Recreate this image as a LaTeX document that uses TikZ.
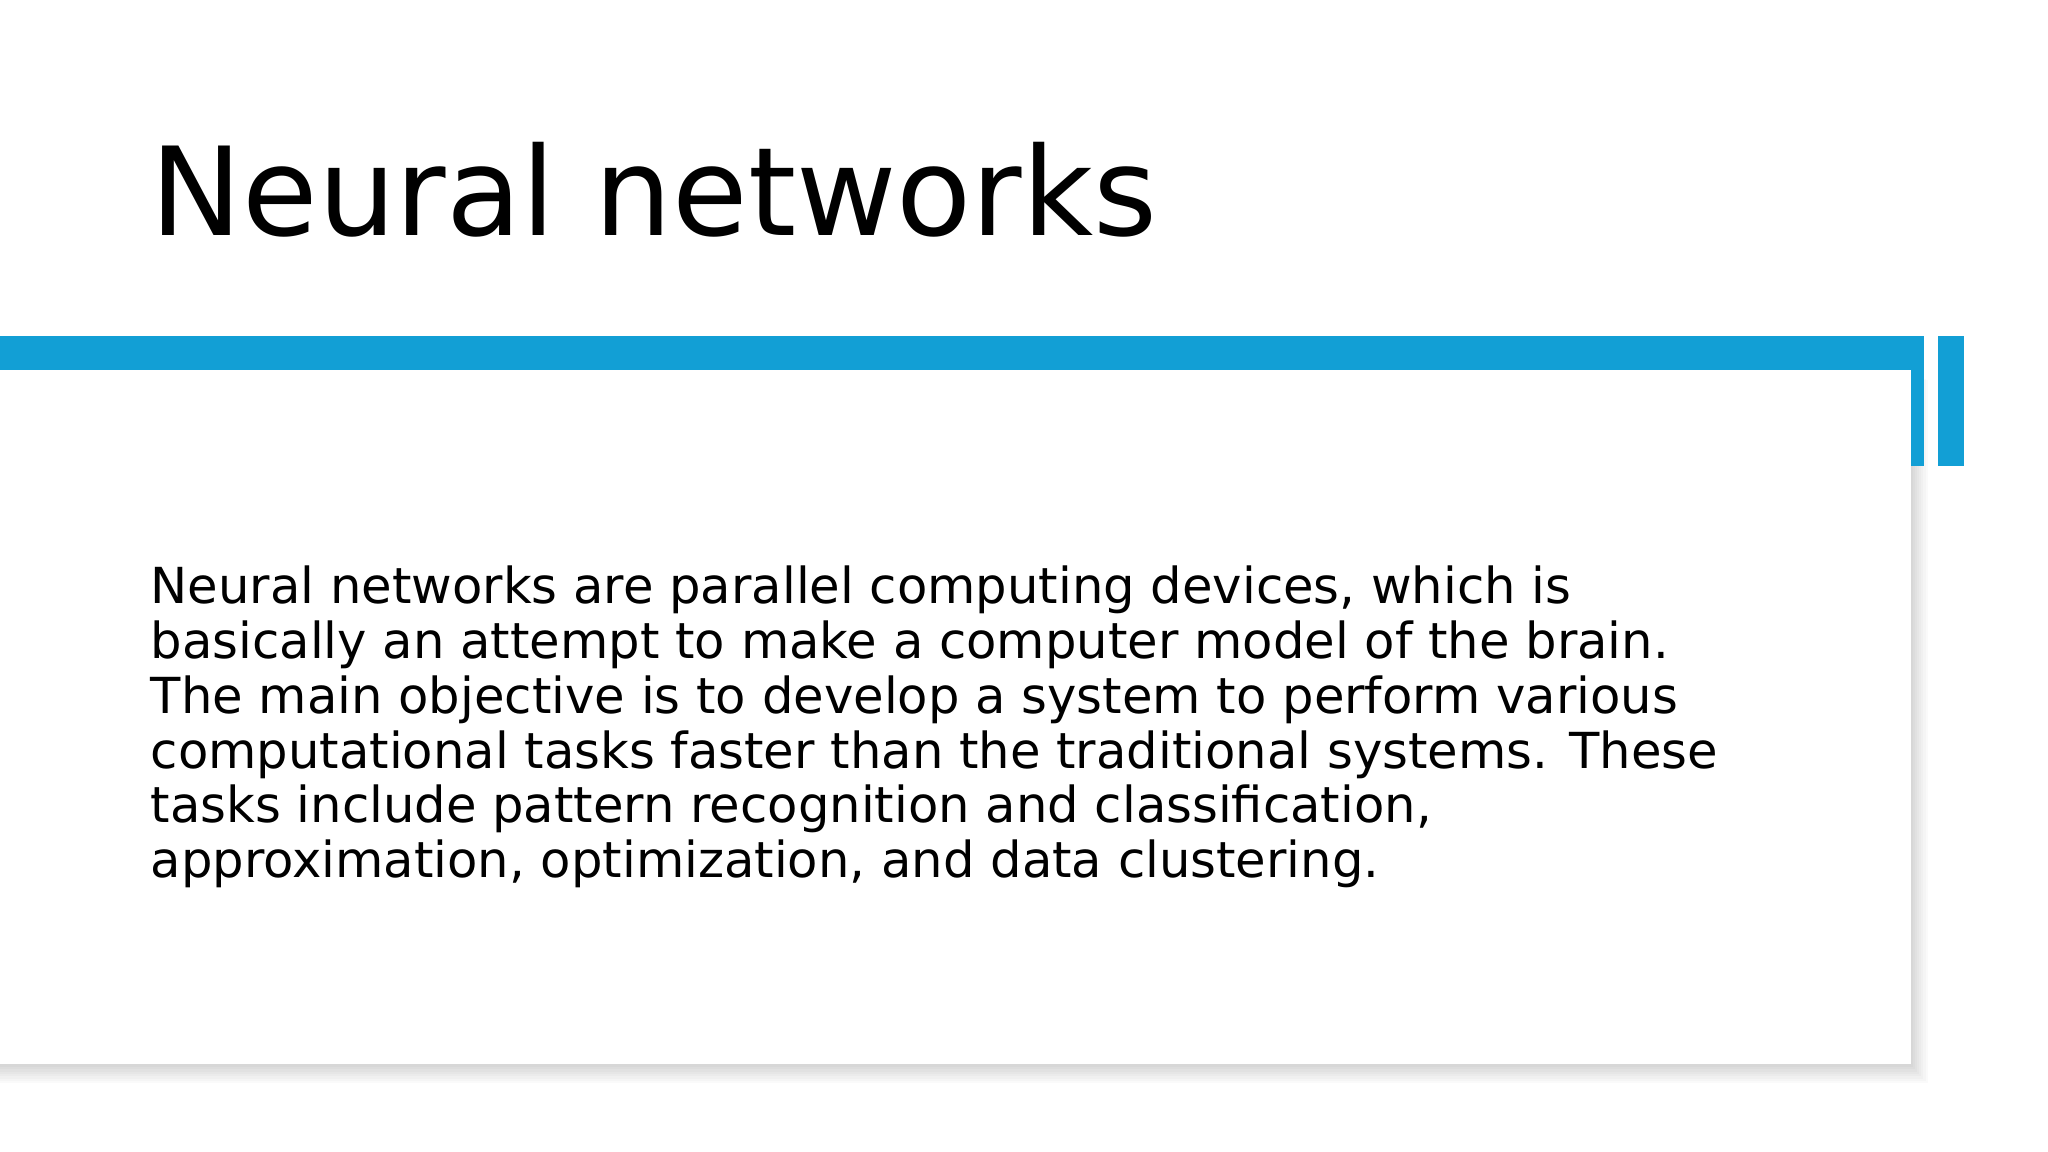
\documentclass[tikz,border=0pt]{standalone}
\usepackage{fontspec}
\setmainfont{DejaVu Sans}
\definecolor{accent}{HTML}{129FD5}
\begin{document}
\begin{tikzpicture}[x=0.5pt,y=-0.5pt]
\tikzset{body/.style={anchor=base west,inner sep=0pt,font=\fontsize{19}{23}\selectfont}}
\useasboundingbox (0,0) rectangle (1568,882);
\fill[white] (0,0) rectangle (1568,882);
% shadow
\foreach \i in {1,...,8}{
  \fill[black,opacity=0.018] (-10,283+\i) rectangle (1463+\i*1.6,815+\i*1.8);
}
\fill[white] (0,283) rectangle (1463,815);
% bars
\fill[accent] (0,257) rectangle (1473,283);
\fill[accent] (1463,257) rectangle (1473,357);
\fill[accent] (1484,257) rectangle (1504,357);
\node[anchor=base west,inner sep=0pt,font=\fontsize{47}{56}\selectfont] (title) at (115,180) {Neural networks};
\node[body] (l1) at (115,462) {Neural networks are parallel computing devices, which is};
\node[body] (l2) at (115,504) {basically an attempt to make a computer model of the brain.};
\node[body] (l3) at (115,546) {The main objective is to develop a system to perform various};
\node[body] (l4) at (115,588) {computational tasks faster than the traditional systems. These};
\node[body] (l5) at (115,630) {tasks include pattern recognition and classification,};
\node[body] (l6) at (115,672) {approximation, optimization, and data clustering.};
\end{tikzpicture}
\end{document}
